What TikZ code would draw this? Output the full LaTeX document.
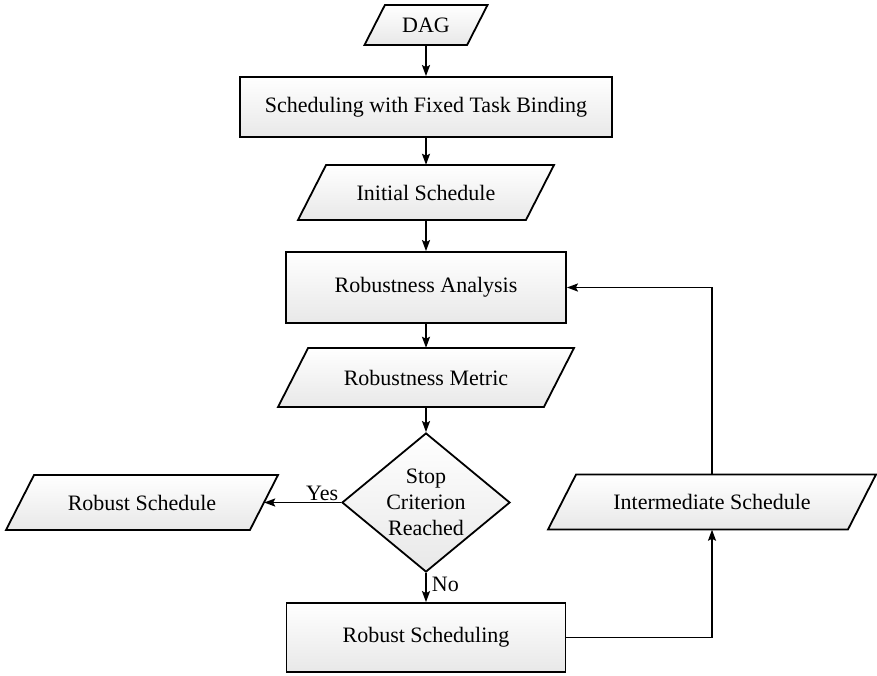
\documentclass[tikz,border=0pt]{standalone}
\usepackage{fontspec}
\setmainfont{Liberation Serif}
\usetikzlibrary{shapes.geometric,arrows.meta}
% #1 name, #2 x, #3 y, #4 total width, #5 height, #6 text
\newcommand{\ionode}[6]{%
  \pgfmathsetmacro{\ioS}{0.51*#5}%
  \path[iofill] ({#2-#4/2},{#3+#5/2}) -- ({#2-#4/2+\ioS},{#3-#5/2})
     -- ({#2+#4/2},{#3-#5/2}) -- ({#2+#4/2-\ioS},{#3+#5/2}) -- cycle;
  \node[iotext, minimum width={#4-\ioS}, minimum height=#5] (#1) at (#2,#3) {#6};%
}
\begin{document}
\begin{tikzpicture}[x=1pt,y=-1pt,
  txt/.style={font=\fontsize{22}{26}\selectfont, inner sep=0pt, align=center},
  base/.style={txt, draw, line width=1.8pt, top color=white, bottom color=black!9},
  proc/.style={base, rectangle},
  iofill/.style={draw, line width=1.8pt, line join=miter, top color=white, bottom color=black!9},
  iotext/.style={txt, rectangle},
  dec/.style={base, diamond, aspect=1.21},
  lbl/.style={font=\fontsize{22}{26}\selectfont, inner sep=1pt},
  arr/.style={line width=1.8pt, -{Stealth[length=11pt,width=8pt,inset=2pt]}}]
\useasboundingbox (0,0) rectangle (877,675);

\ionode{dag}{426}{25}{123}{40}{DAG}
\node[proc, minimum width=372, minimum height=60] (sftb) at (426,107) {Scheduling with Fixed Task Binding};
\ionode{init}{426}{192.5}{256}{55}{Initial Schedule}
\node[proc, minimum width=280, minimum height=71] (ra) at (426,287.5) {Robustness Analysis};
\ionode{met}{426}{377.5}{296}{59}{Robustness Metric}
\node[dec, minimum width=168, minimum height=139] (dec) at (426,502.5) {Stop\\Criterion\\Reached};
\ionode{rs}{142}{502.5}{272}{55}{Robust Schedule}
\ionode{inter}{712}{502}{328}{55}{Intermediate Schedule}
\node[proc, minimum width=279, minimum height=69] (rsch) at (426,637.5) {Robust Scheduling};

\draw[arr] (dag) -- (sftb);
\draw[arr] (sftb) -- (init);
\draw[arr] (init) -- (ra);
\draw[arr] (ra) -- (met);
\draw[arr] (met) -- (dec);
\draw[arr] (dec.west) -- (rs.east) node[lbl, pos=0, anchor=south east, xshift=-1pt] {Yes};
\draw[arr] (dec.south) -- (rsch.north) node[lbl, pos=0, anchor=north west, xshift=4pt, yshift=-2pt] {No};
\draw[arr] (rsch.east) -| (inter.south);
\draw[arr] (inter.north) |- (ra.east);
\end{tikzpicture}
\end{document}
